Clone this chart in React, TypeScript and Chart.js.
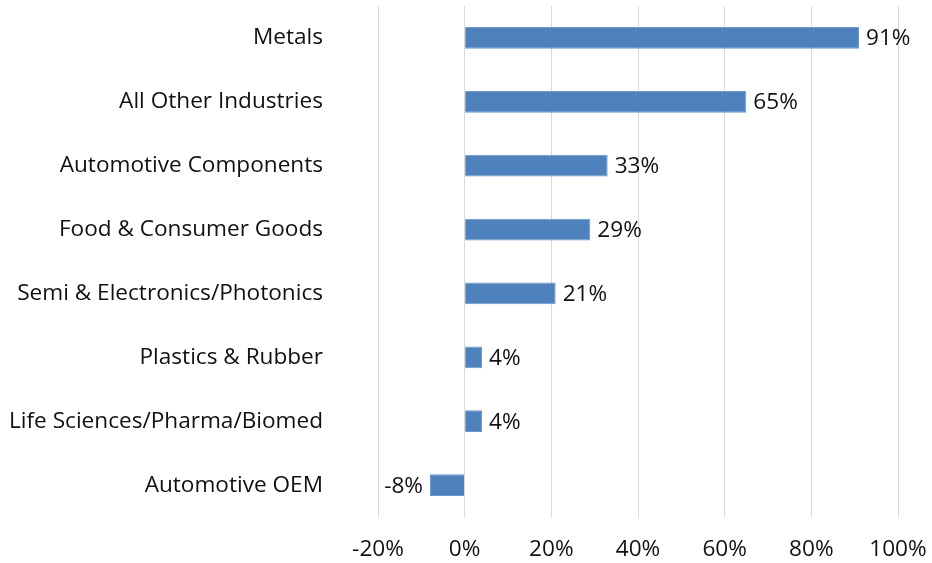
import React, { useEffect, useRef } from "react";
import { Chart, registerables } from "chart.js";

Chart.register(...registerables);

const categories = [
  "Metals",
  "All Other Industries",
  "Automotive Components",
  "Food & Consumer Goods",
  "Semi & Electronics/Photonics",
  "Plastics & Rubber",
  "Life Sciences/Pharma/Biomed",
  "Automotive OEM",
];
const values = [91, 65, 33, 29, 21, 4, 4, -8];
const xMin = -20;
const xMax = 100;
const xStep = 20;

const FONT = "'Open Sans', Lato, sans-serif";
const FONT_SIZE = 22.6;
const TEXT_COLOR = "#111111";

const valueLabels = {
  id: "valueLabels",
  afterDatasetsDraw(chart: any) {
    const ctx = chart.ctx;
    const meta = chart.getDatasetMeta(0);
    ctx.save();
    ctx.font = `${FONT_SIZE}px ${FONT}`;
    ctx.fillStyle = TEXT_COLOR;
    ctx.textBaseline = "middle";
    meta.data.forEach((bar: any, i: number) => {
      const v = values[i];
      const text = `${v}%`;
      if (v >= 0) {
        ctx.textAlign = "left";
        ctx.fillText(text, bar.x + 7, bar.y + 1);
      } else {
        ctx.textAlign = "right";
        ctx.fillText(text, bar.x - 7, bar.y + 1);
      }
    });
    ctx.restore();
  },
};

export default function App() {
  const ref = useRef<HTMLCanvasElement | null>(null);
  useEffect(() => {
    if (!ref.current) return;
    const chart = new Chart(ref.current, {
      type: "bar",
      data: {
        labels: categories,
        datasets: [
          {
            data: values,
            backgroundColor: "#4F81BD",
            borderColor: "#6f97c9",
            borderWidth: 1,
            barPercentage: 0.34,
            categoryPercentage: 1,
          },
        ],
      },
      options: {
        indexAxis: "y",
        animation: false,
        responsive: false,
        maintainAspectRatio: false,
        layout: { padding: { top: 6, right: 34, left: 0, bottom: 0 } },
        plugins: { legend: { display: false }, tooltip: { enabled: false } },
        scales: {
          x: {
            min: xMin,
            max: xMax,
            ticks: {
              stepSize: xStep,
              callback: (v: any) => `${v}%`,
              font: { family: FONT, size: FONT_SIZE },
              color: TEXT_COLOR,
              padding: 19,
              maxRotation: 0,
            },
            grid: { color: "#d9d9d9", drawTicks: false },
            border: { display: false },
            afterFit: (scale: any) => {
              scale.height = 46;
              scale.paddingLeft = 0;
              scale.paddingRight = 0;
            },
          },
          y: {
            ticks: {
              font: { family: FONT, size: FONT_SIZE },
              color: TEXT_COLOR,
              padding: 55,
            },
            grid: { display: false, drawTicks: false },
            border: { display: false },
            afterFit: (scale: any) => {
              scale.width = 378;
              scale.paddingTop = 0;
              scale.paddingBottom = 0;
            },
          },
        },
      },
      plugins: [valueLabels],
    });
    return () => chart.destroy();
  }, []);
  return (
    <div style={{ position: "absolute", left: 0, top: 0, width: 932, height: 563, background: "#fff" }}>
      <canvas ref={ref} width={932} height={563} style={{ width: 932, height: 563 }} />
    </div>
  );
}
